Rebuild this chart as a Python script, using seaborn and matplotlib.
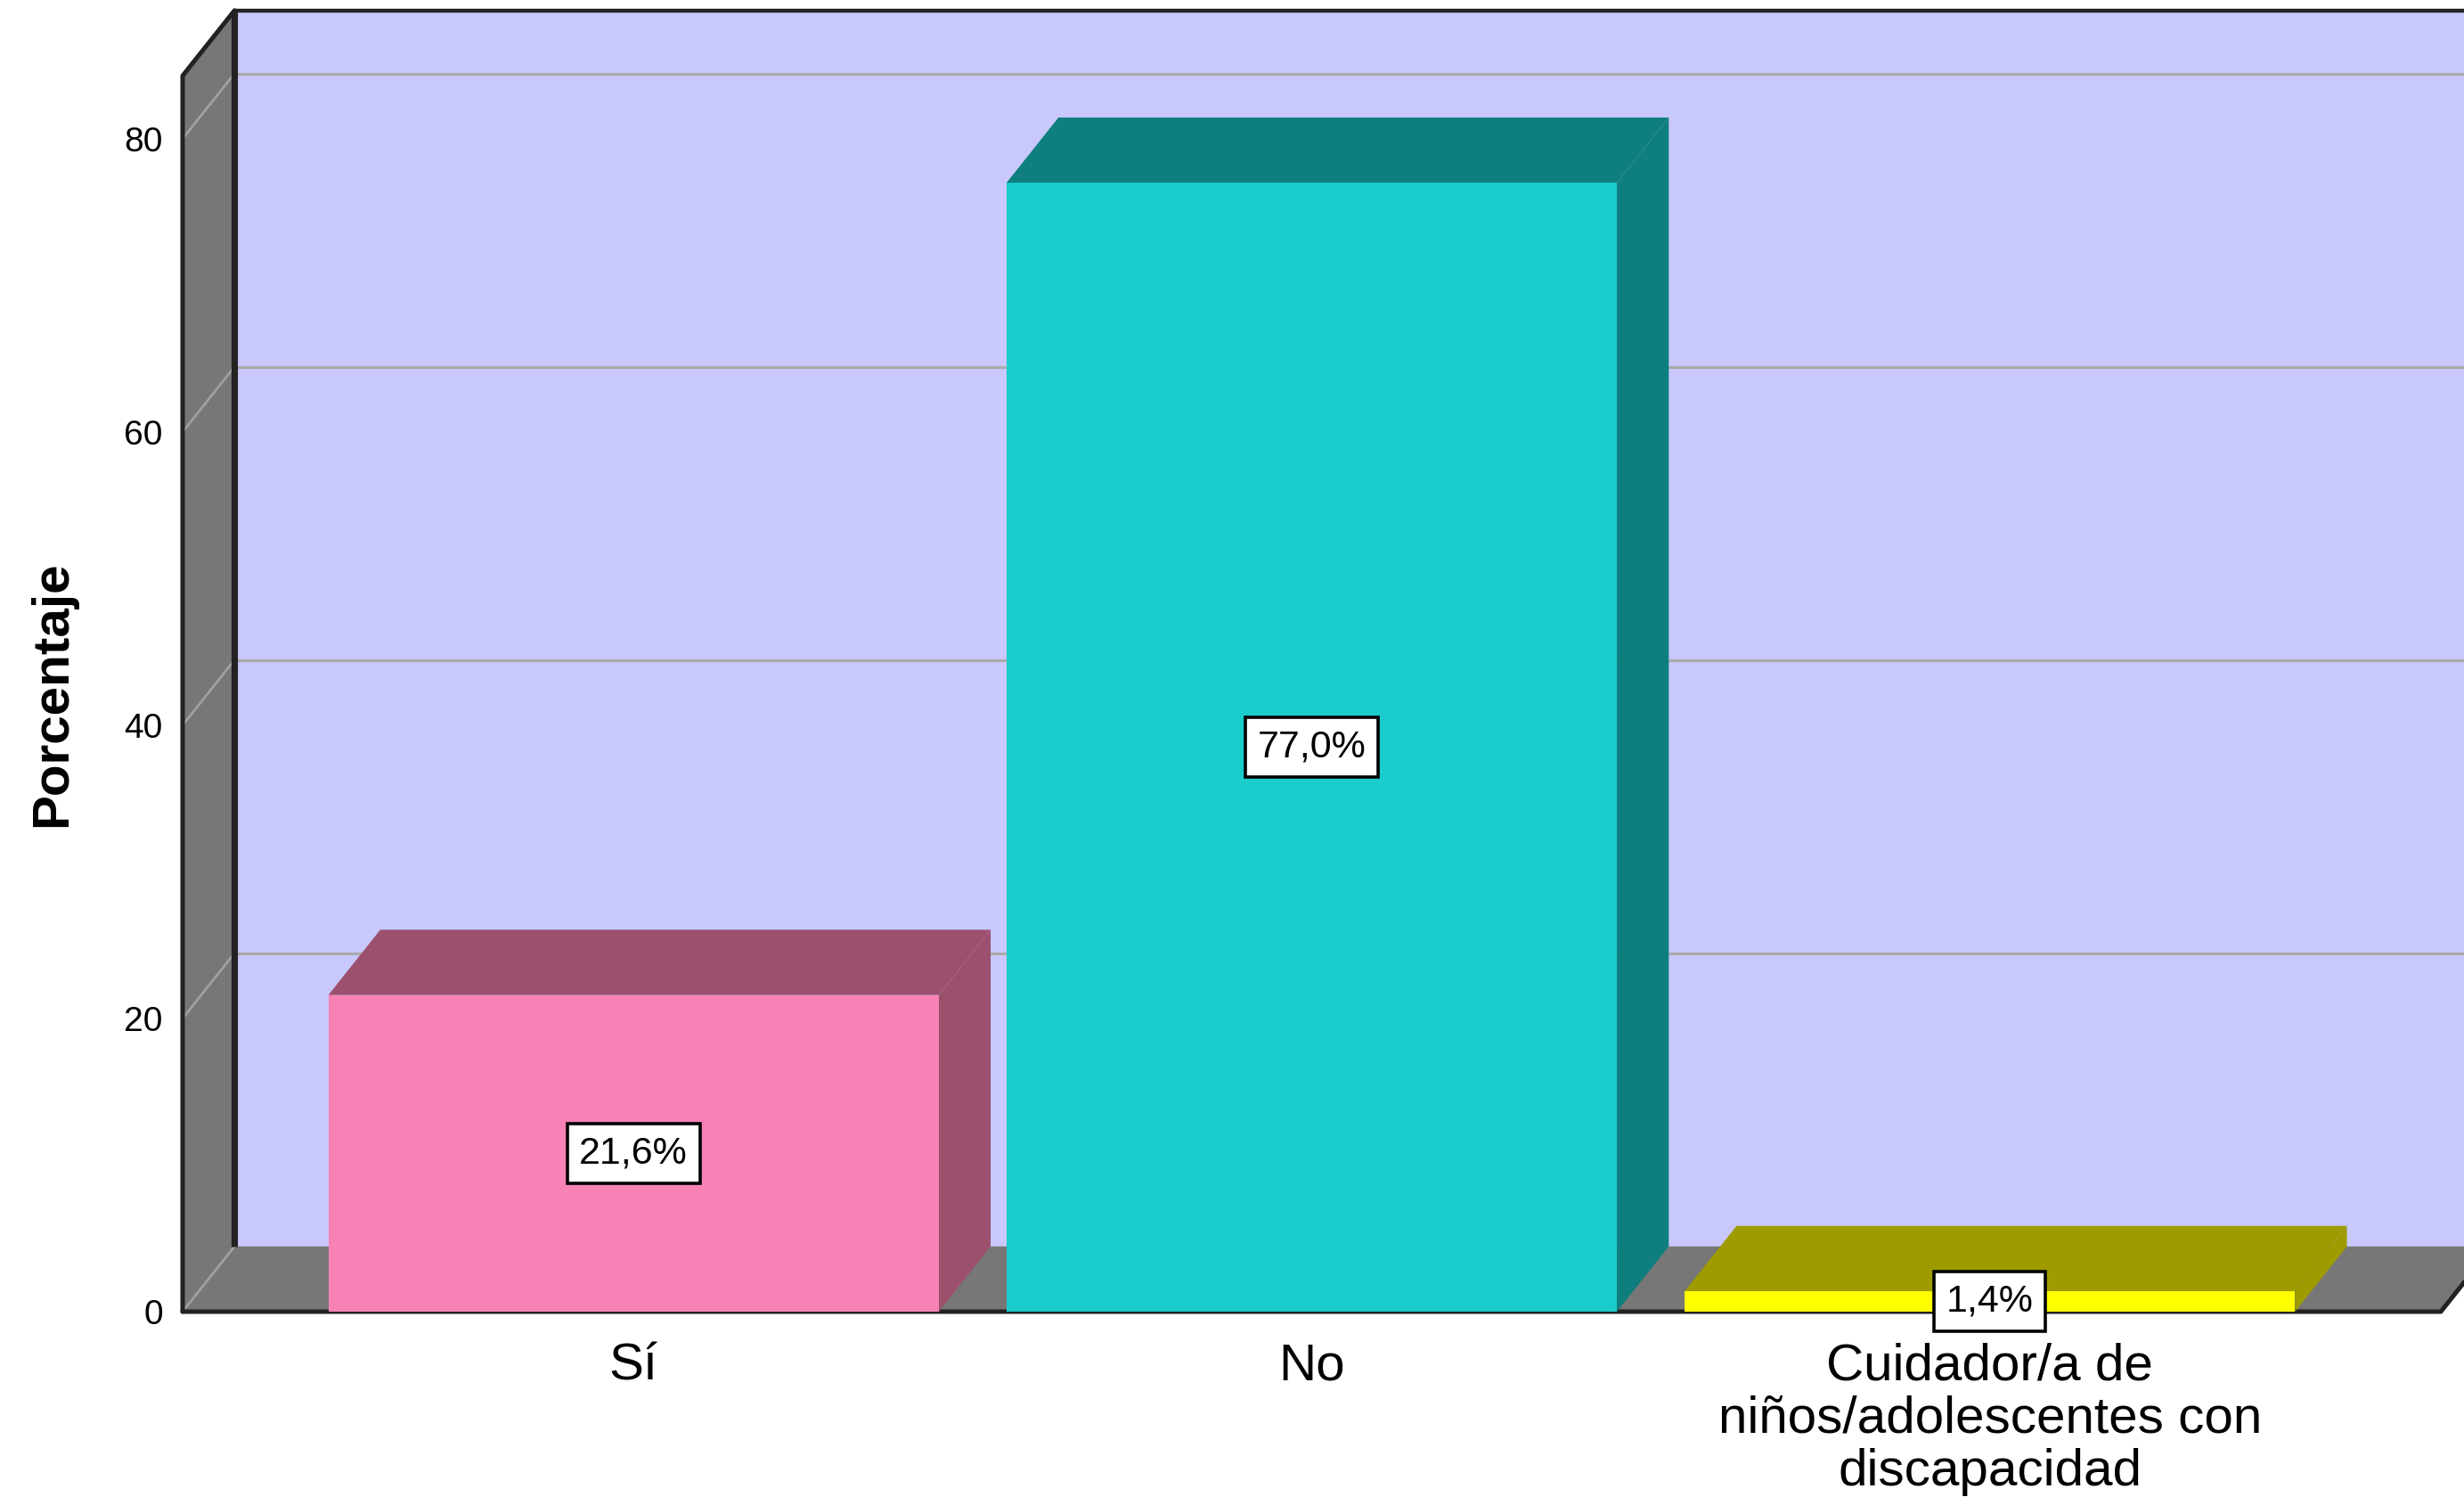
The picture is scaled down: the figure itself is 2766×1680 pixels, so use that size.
import matplotlib
matplotlib.use("Agg")
import matplotlib.pyplot as plt
import seaborn as sns
import pandas as pd
from matplotlib.patches import Polygon

# ---- data ----
categories = ["Sí", "No", "Cuidador/a de\nniños/adolescentes con\ndiscapacidad"]
percentages = [21.6, 77.0, 1.4]
value_labels = ["21,6%", "77,0%", "1,4%"]
y_ticks = [0, 20, 40, 60, 80]
y_label = "Porcentaje"

front_colors = ["#F882B6", "#1ACCCC", "#FFFF00"]
shade_colors = ["#9C506E", "#0F7E7E", "#9E9B00"]

# ---- style ----
sns.set_theme(style="white")
plt.rcParams['font.family'] = ['Liberation Sans', 'DejaVu Sans']

W, H = 2766, 1680
fig = plt.figure(figsize=(W / 200, H / 200), dpi=200)
left, right, bottom, top = 205, 2740, 1472, 85
ax = fig.add_axes([left / W, (H - bottom) / H, (right - left) / W, (bottom - top) / H])

XMIN, XMAX = -0.665, 2.665
YMAX = 84.3
DDX, DDY = 0.0765, 4.45   # depth offset in data units

df = pd.DataFrame({"cat": categories, "pct": percentages})
sns.barplot(data=df, x="cat", y="pct", hue="cat", palette=front_colors,
            width=0.9, legend=False, ax=ax, saturation=1, linewidth=0, zorder=5)

ax.set_xlim(XMIN, XMAX)
ax.set_ylim(0, YMAX)
ax.patch.set_visible(False)
for s in ax.spines.values():
    s.set_visible(False)

wall_gray = "#777777"
edge = "#222222"
back_col = "#C8C8FD"
grid_col = "#AAAAAA"

# back wall
far_right = XMAX + DDX + 0.3
ax.add_patch(Polygon([(XMIN + DDX, DDY), (far_right, DDY), (far_right, YMAX + DDY),
                      (XMIN + DDX, YMAX + DDY)], closed=True, fc=back_col, ec="none",
                     zorder=0, clip_on=False))
# gridlines on back wall
for v in y_ticks[1:]:
    ax.plot([XMIN + DDX, far_right], [v + DDY, v + DDY], color=grid_col, lw=1.1,
            zorder=1, clip_on=False)
# side wall
ax.add_patch(Polygon([(XMIN, 0), (XMIN, YMAX), (XMIN + DDX, YMAX + DDY), (XMIN + DDX, DDY)],
                     closed=True, fc=wall_gray, ec="none", zorder=2, clip_on=False))
for v in y_ticks:
    ax.plot([XMIN, XMIN + DDX], [v, v + DDY], color="#A0A0A0", lw=1.0, zorder=2.5,
            clip_on=False)
# floor
ax.add_patch(Polygon([(XMIN, 0), (XMAX, 0), (XMAX + DDX, DDY), (XMIN + DDX, DDY)],
                     closed=True, fc=wall_gray, ec="none", zorder=2, clip_on=False))
# outlines
ax.plot([XMIN + DDX, XMIN + DDX], [DDY, YMAX + DDY], color=edge, lw=2.6, zorder=3,
        clip_on=False, solid_capstyle="butt")
ax.plot([XMIN + DDX, far_right], [YMAX + DDY, YMAX + DDY], color=edge, lw=1.6, zorder=3,
        clip_on=False)
ax.plot([XMIN, XMIN, XMIN + DDX], [0, YMAX, YMAX + DDY], color=edge, lw=1.8, zorder=3,
        clip_on=False)
ax.plot([XMIN, XMAX, XMAX + DDX], [0, 0, DDY], color=edge, lw=1.8, zorder=3,
        clip_on=False)

# 3D faces for each bar, from the seaborn bars
bars = sorted([p for p in ax.patches if p.get_zorder() == 5], key=lambda p: p.get_x())
for bar, shade, lab in zip(bars, shade_colors, value_labels):
    x0, w, h = bar.get_x(), bar.get_width(), bar.get_height()
    ax.add_patch(Polygon([(x0, h), (x0 + w, h), (x0 + w + DDX, h + DDY), (x0 + DDX, h + DDY)],
                         closed=True, fc=shade, ec="none", zorder=4, clip_on=False))
    ax.add_patch(Polygon([(x0 + w, 0), (x0 + w, h), (x0 + w + DDX, h + DDY), (x0 + w + DDX, DDY)],
                         closed=True, fc=shade, ec="none", zorder=4, clip_on=False))
    ax.text(x0 + w / 2, h / 2, lab, ha="center", va="center", fontsize=15.5, color="black",
            zorder=10, bbox=dict(boxstyle="square,pad=0.32", fc="white", ec="black", lw=1.3))

# axes text
ax.set_yticks(y_ticks)
ax.set_yticklabels([str(t) for t in y_ticks], fontsize=14, color="black")
ax.set_xticks(range(len(categories)))
ax.set_xticklabels(categories, fontsize=21, linespacing=1.12, color="black")
ax.tick_params(axis="x", length=0, pad=12.5)
ax.tick_params(axis="y", length=0, pad=8)
ax.set_xlabel("")
ax.set_ylabel(y_label, fontsize=21, fontweight="bold", color="black")
ax.yaxis.set_label_coords(-0.047, 0.5)

fig.savefig("out.png", dpi=200, facecolor="white")
